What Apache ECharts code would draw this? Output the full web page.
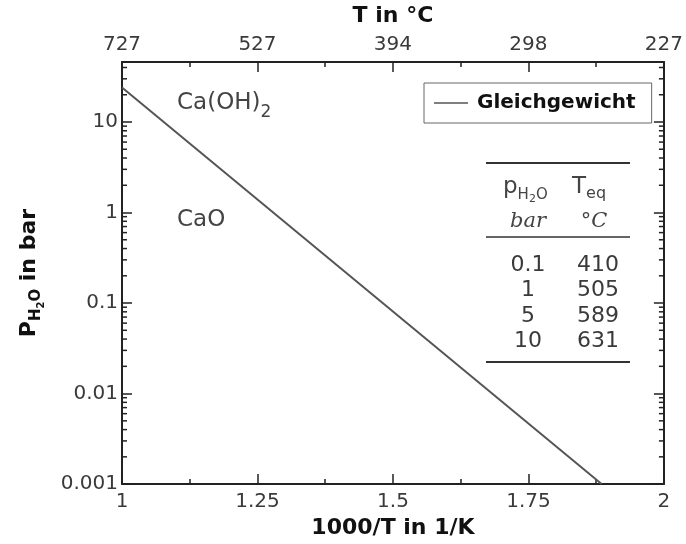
<!DOCTYPE html>
<html>
<head>
<meta charset="UTF-8">
<title>Ca(OH)2 / CaO Gleichgewicht</title>
<script src="https://cdn.jsdelivr.net/npm/echarts@6/dist/echarts.min.js"></script>
<style>
html,body{margin:0;padding:0;background:#fff;}
#chart{width:686px;height:544px;}
</style>
</head>
<body>
<div id="chart"></div>
<script type="text/javascript">
// Gleichgewichtslinie (1000/T in 1/K gegen p in bar)
var invT = [1.0, 1.885];
var pressure = [24, 0.001];

// Achsen
var xTicks = ['1', '1.25', '1.5', '1.75', '2'];
var topTicks = ['727', '527', '394', '298', '227'];
var yTicks = ['0.001', '0.01', '0.1', '1', '10'];
var yMax = 46;

// Tabelle
var tabP = ['0.1', '1', '5', '10'];
var tabT = ['410', '505', '589', '631'];

var FONT = '"DejaVu Sans", sans-serif';
var SERIF = '"DejaVu Serif", "Liberation Serif", serif';
var lg = Math.log10;

// Nebenstriche der log-Achse (2..9 je Dekade)
var minor = [];
for (var d = -3; d <= 1; d++) {
	for (var m = 2; m <= 9; m++) {
		var v = lg(m) + d;
		if (v < lg(yMax)) minor.push([1, v]);
	}
}

var lineData = [];
for (var i = 0; i < invT.length; i++) lineData.push([invT[i], lg(pressure[i])]);

var chart = echarts.init(document.getElementById('chart'));

var tickCol = '#222';
var axisBase = {
	type: 'value', min: 1, max: 2, interval: 0.25,
	axisLine: {onZero: false, lineStyle: {color: tickCol, width: 2}},
	axisTick: {inside: true, length: 10, lineStyle: {color: tickCol, width: 1.5}},
	minorTick: {show: true, splitNumber: 2, length: 5, lineStyle: {color: tickCol, width: 1.5}},
	splitLine: {show: false},
	nameTextStyle: {fontFamily: FONT, fontWeight: 'bold', fontSize: 22, color: '#111'}
};

// Tiefgestellte Zeichen: alle Teile oben ausgerichtet, Index per padding nach unten
function subRich(main, sub, subsub, col, weight, pad, pad2) {
	return {
		m: {fontFamily: FONT, fontWeight: weight, fontSize: main, color: col, fill: col, verticalAlign: 'top'},
		s: {fontFamily: FONT, fontWeight: weight, fontSize: sub, color: col, fill: col, verticalAlign: 'top', padding: [pad, 0, 0, 0]},
		ss: {fontFamily: FONT, fontWeight: weight, fontSize: subsub, color: col, fill: col, verticalAlign: 'top', padding: [pad2, 0, 0, 0]}
	};
}

var option = {
	backgroundColor: '#fff',
	animation: false,
	grid: {left: 122, right: 19, top: 61, bottom: 52},
	legend: {
		data: ['Gleichgewicht'],
		left: 424, top: 83,
		padding: [10, 16, 10, 10],
		borderColor: '#666', borderWidth: 1,
		icon: 'rect', itemWidth: 34, itemHeight: 1.5,
		textStyle: {fontFamily: FONT, fontWeight: 'bold', fontSize: 20, color: '#111', padding: [0, 0, 0, 4]}
	},
	xAxis: [
		Object.assign({}, axisBase, {
			position: 'bottom',
			name: '1000/T in 1/K', nameLocation: 'middle', nameGap: 25,
			axisLabel: {fontFamily: FONT, fontSize: 20, color: '#3a3a3a', margin: 8,
				formatter: function (v, idx) { return xTicks[idx]; }}
		}),
		Object.assign({}, axisBase, {
			position: 'top',
			name: 'T in °C', nameLocation: 'middle', nameGap: 35,
			axisLabel: {fontFamily: FONT, fontSize: 20, color: '#3a3a3a', margin: 7,
				formatter: function (v, idx) { return topTicks[idx]; }}
		})
	],
	yAxis: [
		{
			type: 'value', position: 'left', min: -3, max: lg(yMax), interval: 1,
			axisLine: {onZero: false, lineStyle: {color: tickCol, width: 2}},
			axisTick: {inside: true, length: 10, lineStyle: {color: tickCol, width: 1.5}},
			splitLine: {show: false},
			axisLabel: {fontFamily: FONT, fontSize: 20, color: '#3a3a3a', margin: 4, showMaxLabel: false,
				formatter: function (v) {
					return Math.abs(v - Math.round(v)) < 1e-6 ? yTicks[Math.round(v) + 3] : '';
				}},
			name: '{m|P}{s|H}{ss|2}{s|O}{m| in bar}',
			nameLocation: 'middle', nameRotate: 90, nameGap: 76,
			nameTextStyle: {rich: subRich(22, 15, 10, '#111', 'bold', 11, 18)}
		},
		{
			type: 'value', position: 'right', min: -3, max: lg(yMax), interval: 1,
			axisLine: {onZero: false, lineStyle: {color: tickCol, width: 2}},
			axisTick: {inside: true, length: 10, lineStyle: {color: tickCol, width: 1.5}},
			axisLabel: {show: false},
			splitLine: {show: false}
		}
	],
	series: [
		{
			name: 'Gleichgewicht', type: 'line', data: lineData,
			symbol: 'none', lineStyle: {color: '#555', width: 2}, itemStyle: {color: '#555'}, z: 3
		},
		{
			name: 'minor', type: 'custom', data: minor, silent: true, z: 4,
			encode: {x: 0, y: 1},
			renderItem: function (params, api) {
				var p = api.coord([1, api.value(1)]);
				var r = api.coord([2, api.value(1)]);
				var st = {stroke: tickCol, lineWidth: 1.5};
				return {type: 'group', children: [
					{type: 'line', shape: {x1: p[0], y1: p[1], x2: p[0] + 5, y2: p[1]}, style: st},
					{type: 'line', shape: {x1: r[0], y1: r[1], x2: r[0] - 5, y2: r[1]}, style: st}
				]};
			}
		}
	],
	graphic: []
};

// Phasenbeschriftung
option.graphic.push({
	type: 'text', x: 177, y: 92,
	style: {text: '{m|Ca(OH)}{s|2}', rich: subRich(23, 17, 12, '#444', 'normal', 12, 12)}
});
option.graphic.push({
	type: 'text', x: 177, y: 220,
	style: {text: 'CaO', font: '23px ' + FONT, fill: '#444', verticalAlign: 'middle'}
});

// Tabelle
var rule = function (y, w) {
	return {type: 'line', shape: {x1: 486, y1: y, x2: 630, y2: y}, style: {stroke: '#333', lineWidth: w}};
};
option.graphic.push(rule(163, 2), rule(237, 1.5), rule(362, 2));
option.graphic.push({
	type: 'text', x: 503, y: 176,
	style: {text: '{m|p}{s|H}{ss|2}{s|O}', rich: subRich(23, 15, 11, '#444', 'normal', 12, 18)}
});
option.graphic.push({
	type: 'text', x: 572, y: 176,
	style: {text: '{m|T}{s|eq}', rich: subRich(23, 16, 11, '#444', 'normal', 10, 10)}
});
option.graphic.push({
	type: 'text', x: 528, y: 222,
	style: {text: 'bar', font: 'italic 21px ' + SERIF, fill: '#444', align: 'center', verticalAlign: 'middle'}
});
option.graphic.push({
	type: 'text', x: 594, y: 222,
	style: {text: '°C', font: 'italic 21px ' + SERIF, fill: '#444', align: 'center', verticalAlign: 'middle'}
});
for (var k = 0; k < tabP.length; k++) {
	option.graphic.push({
		type: 'text', x: 528, y: 265 + k * 25.5,
		style: {text: tabP[k], font: '22px ' + FONT, fill: '#3a3a3a', align: 'center', verticalAlign: 'middle'}
	});
	option.graphic.push({
		type: 'text', x: 598, y: 265 + k * 25.5,
		style: {text: tabT[k], font: '22px ' + FONT, fill: '#3a3a3a', align: 'center', verticalAlign: 'middle'}
	});
}

chart.setOption(option);
</script>
</body>
</html>
